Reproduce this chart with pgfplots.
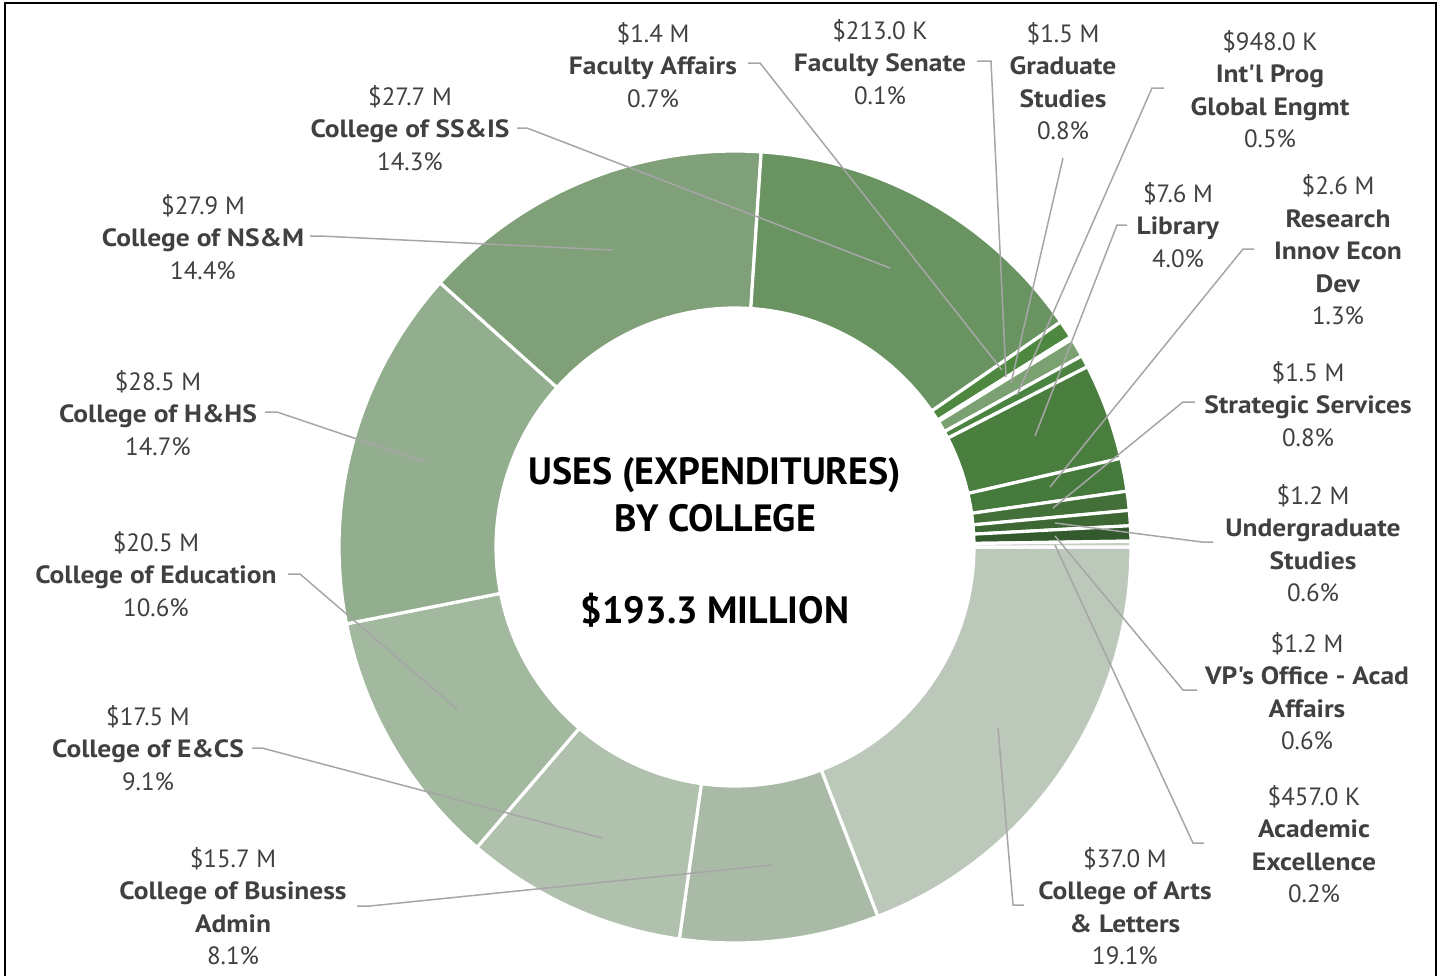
\documentclass[border=0pt]{standalone}
\usepackage{fontspec}
\setmainfont{PT Sans}[Ligatures=TeXOff]
\newfontfamily\lblfont{PT Sans}[Ligatures=TeXOff, BoldFeatures={FakeStretch=1.1}]
\usepackage{pgfplots}
\pgfplotsset{compat=1.18}
\usetikzlibrary{calc}

\definecolor{lbltxt}{HTML}{404040}
\definecolor{leadc}{HTML}{A6A6A6}
\definecolor{cArts}{HTML}{BCC8BA}
\definecolor{cBus}{HTML}{A9BBA6}
\definecolor{cEcs}{HTML}{B0C2AD}
\definecolor{cEdu}{HTML}{A2B89F}
\definecolor{cHhs}{HTML}{93AE8E}
\definecolor{cNsm}{HTML}{7FA078}
\definecolor{cSsis}{HTML}{699462}
\definecolor{cFa}{HTML}{4E873F}
\definecolor{cFs}{HTML}{9DB597}
\definecolor{cGrad}{HTML}{7BA172}
\definecolor{cIntl}{HTML}{4B8340}
\definecolor{cLib}{HTML}{4A7E3F}
\definecolor{cRes}{HTML}{467A3C}
\definecolor{cStrat}{HTML}{436F38}
\definecolor{cUg}{HTML}{3D6833}
\definecolor{cVp}{HTML}{335A2C}
\definecolor{cAe}{HTML}{C5CFC2}

\tikzset{
  lbl/.style={align=center, inner sep=0pt, text=lbltxt,
    font=\lblfont\fontsize{12.5}{16.25}\selectfont},
  leader/.style={draw=leadc, line width=0.75pt},
}

\begin{document}
\begin{tikzpicture}
\begin{axis}[
  name=ax,
  x=0.5pt, y=0.5pt,
  xmin=0, xmax=1442, ymin=0, ymax=976,
  y dir=reverse,
  hide axis, clip=false,
]
% donut ring: values in $M, clockwise from 3 o'clock
\pgfplotsextra{
  \gdef\cum{0}
  \foreach \v/\c in {37.0/cArts, 15.7/cBus, 17.5/cEcs, 20.5/cEdu, 28.5/cHhs,
      27.9/cNsm, 27.7/cSsis, 1.4/cFa, 0.213/cFs, 1.5/cGrad, 0.948/cIntl,
      7.6/cLib, 2.6/cRes, 1.5/cStrat, 1.2/cUg, 1.2/cVp, 0.457/cAe}{
    \pgfmathsetmacro\a{\cum}
    \pgfmathsetmacro\b{\cum-\v*360/193.418}
    \fill[\c, draw=white, line width=1.6pt]
      (axis cs:{735+396*cos(\a)},{547-396*sin(\a)})
        arc[start angle=\a, end angle=\b, radius=198pt]
      -- (axis cs:{735+239*cos(\b)},{547-239*sin(\b)})
        arc[start angle=\b, end angle=\a, radius=119.5pt] -- cycle;
    \xdef\cum{\b}
  }
}

% leader lines
\draw[leader] (axis cs:517,128) -- (axis cs:527,128) -- (axis cs:890,268);
\draw[leader] (axis cs:310,236) -- (axis cs:320,236) -- (axis cs:612,250);
\draw[leader] (axis cs:265,412) -- (axis cs:277,412) -- (axis cs:425,462);
\draw[leader] (axis cs:288,574) -- (axis cs:300,574) -- (axis cs:458,710);
\draw[leader] (axis cs:252,748) -- (axis cs:262,748) -- (axis cs:602,838);
\draw[leader] (axis cs:357,906) -- (axis cs:370,906) -- (axis cs:772,865);
\draw[leader] (axis cs:1024,905) -- (axis cs:1013,905) -- (axis cs:998,728);
\draw[leader] (axis cs:1204,843) -- (axis cs:1193,843) -- (axis cs:1055,545);
\draw[leader] (axis cs:1197,690) -- (axis cs:1183,690) -- (axis cs:1055,536);
\draw[leader] (axis cs:1213,542) -- (axis cs:1202,542) -- (axis cs:1055,523);
\draw[leader] (axis cs:1195,402) -- (axis cs:1183,402) -- (axis cs:1053,508);
\draw[leader] (axis cs:1254,249) -- (axis cs:1243,249) -- (axis cs:1050,487);
\draw[leader] (axis cs:1127,225) -- (axis cs:1117,225) -- (axis cs:1035,436);
\draw[leader] (axis cs:1164,88) -- (axis cs:1152,88) -- (axis cs:1017,395);
\draw[leader] (axis cs:1063,158) -- (axis cs:1011,383);
\draw[leader] (axis cs:977,61) -- (axis cs:991,61) -- (axis cs:1006,377);
\draw[leader] (axis cs:748,63) -- (axis cs:760,63) -- (axis cs:1002,370);

% labels
\node[lbl] at (axis cs:653,65) {\$1.4 M\\\textbf{Faculty Affairs}\\0.7\%};
\node[lbl] at (axis cs:880,62) {\$213.0 K\\\textbf{Faculty Senate}\\0.1\%};
\node[lbl] at (axis cs:1063,81) {\$1.5 M\\\textbf{Graduate}\\\textbf{Studies}\\0.8\%};
\node[lbl] at (axis cs:1270,89) {\$948.0 K\\\textbf{Int'l Prog}\\\textbf{Global Engmt}\\0.5\%};
\node[lbl] at (axis cs:1178,225) {\$7.6 M\\\textbf{Library}\\4.0\%};
\node[lbl] at (axis cs:1338,250) {\$2.6 M\\\textbf{Research}\\\textbf{Innov Econ}\\\textbf{Dev}\\1.3\%};
\node[lbl] at (axis cs:1308,404) {\$1.5 M\\\textbf{Strategic Services}\\0.8\%};
\node[lbl] at (axis cs:1313,543) {\$1.2 M\\\textbf{Undergraduate}\\\textbf{Studies}\\0.6\%};
\node[lbl] at (axis cs:1307,691) {\$1.2 M\\\textbf{VP's Office - Acad}\\\textbf{Affairs}\\0.6\%};
\node[lbl] at (axis cs:1314,844) {\$457.0 K\\\textbf{Academic}\\\textbf{Excellence}\\0.2\%};
\node[lbl] at (axis cs:1125,906) {\$37.0 M\\\textbf{College of Arts}\\\textbf{\& Letters}\\19.1\%};
\node[lbl] at (axis cs:233,906) {\$15.7 M\\\textbf{College of Business}\\\textbf{Admin}\\8.1\%};
\node[lbl] at (axis cs:148,748) {\$17.5 M\\\textbf{College of E\&CS}\\9.1\%};
\node[lbl] at (axis cs:156,574) {\$20.5 M\\\textbf{College of Education}\\10.6\%};
\node[lbl] at (axis cs:158,413) {\$28.5 M\\\textbf{College of H\&HS}\\14.7\%};
\node[lbl] at (axis cs:203,237) {\$27.9 M\\\textbf{College of NS\&M}\\14.4\%};
\node[lbl] at (axis cs:410,128) {\$27.7 M\\\textbf{College of SS\&IS}\\14.3\%};

% centre title
\node[font=\bfseries\fontsize{19}{23.5}\selectfont, align=center, inner sep=0pt]
  at (axis cs:715,495) {USES (EXPENDITURES)\\BY COLLEGE};
\node[font=\bfseries\fontsize{19}{23.5}\selectfont, inner sep=0pt]
  at (axis cs:715,610) {\$193.3 MILLION};

% outer frame
\draw[line width=1.3pt] (axis cs:5,976) -- (axis cs:5,3) -- (axis cs:1436,3) -- (axis cs:1436,976);
\end{axis}
\pgfresetboundingbox
\useasboundingbox (ax.south west) rectangle (ax.north east);
\end{tikzpicture}
\end{document}
